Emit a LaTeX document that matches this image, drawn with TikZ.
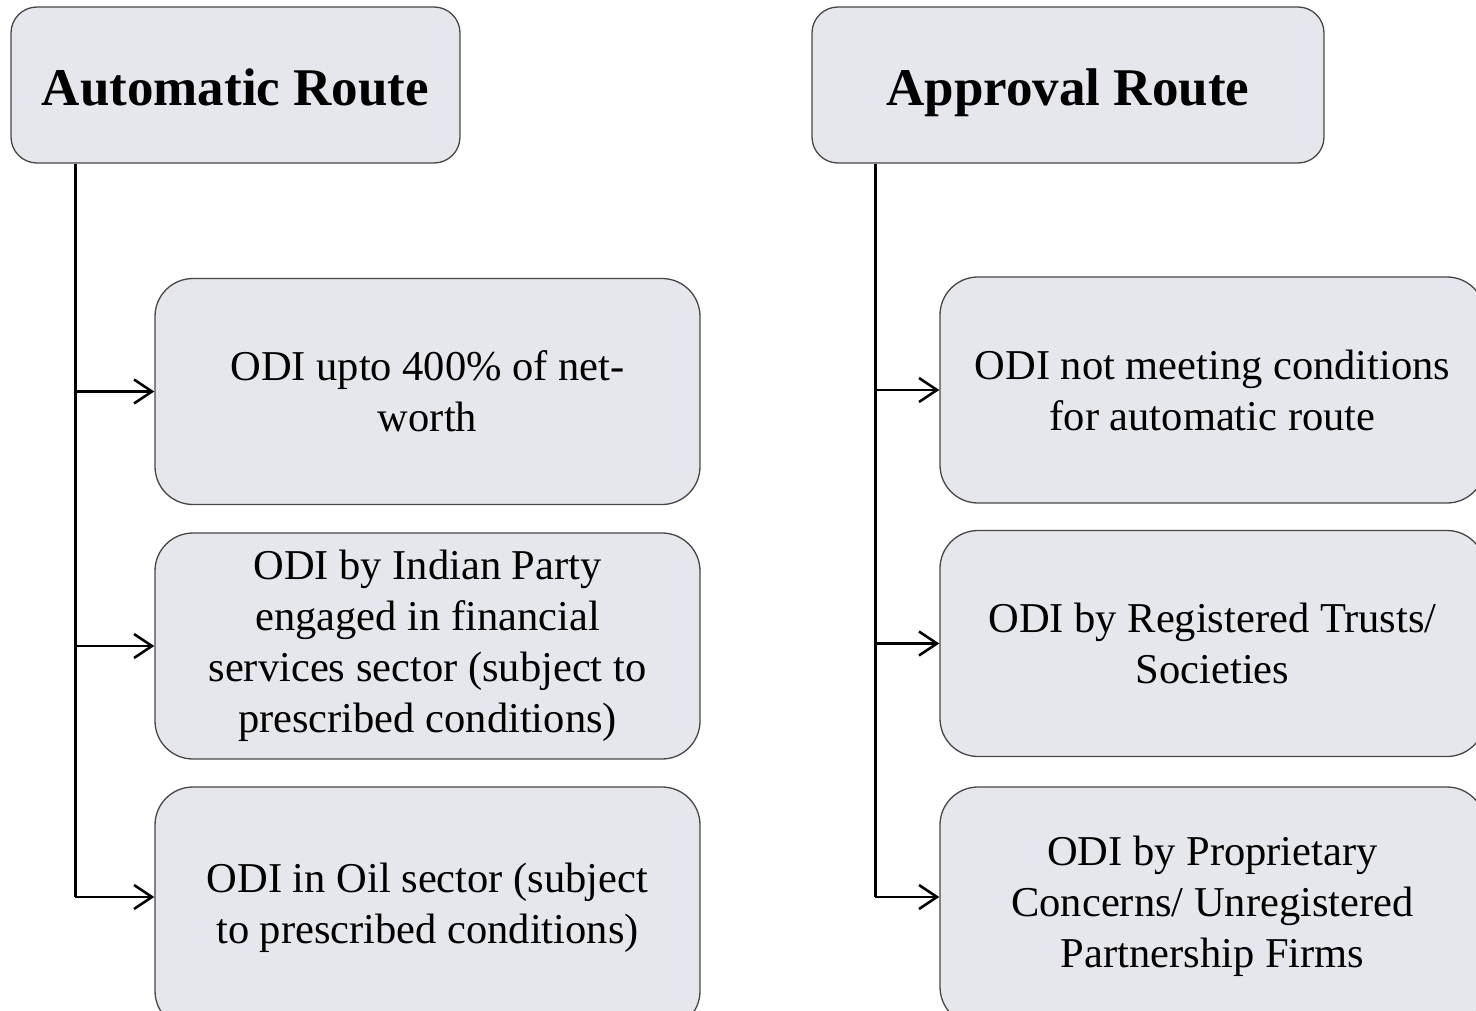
\documentclass[tikz,border=0pt]{standalone}
\usepackage{fontspec}
\setmainfont{Liberation Serif}
\usetikzlibrary{arrows.meta}
\definecolor{boxfill}{RGB}{230,231,236}
\definecolor{boxline}{RGB}{70,70,70}
\tikzset{
  header/.style={draw=boxline, fill=boxfill, line width=1.3pt, rounded corners=26pt,
    inner sep=0pt, align=center, text height=42pt, text depth=0pt,
    font=\fontsize{53}{60}\selectfont\bfseries},
  item/.style={draw=boxline, fill=boxfill, line width=1.3pt, rounded corners=38pt,
    minimum width=545pt, minimum height=226pt, inner sep=0pt, align=center,
    font=\fontsize{42.5}{51}\selectfont},
  trunk/.style={line width=2.6pt, black},
  branch/.style={line width=2.6pt, black, -{Straight Barb[length=18pt, width=24pt, line width=2.6pt]}}
}
\begin{document}
\begin{tikzpicture}[x=1pt, y=-1pt]
  \useasboundingbox (0,0) rectangle (1476,1011);
  \clip (0,0) rectangle (1476,1011);

  % Route headers
  \node[header, minimum width=449pt, minimum height=156pt] (hA) at (235.5,85) {Automatic Route};
  \node[header, minimum width=512pt, minimum height=156pt] (hB) at (1068,85) {Approval Route};

  % Automatic route items
  \node[item] (a1) at (427.5,391.5) {ODI upto 400\% of net-\\worth};
  \node[item] (a2) at (427.5,646) {ODI by Indian Party\\engaged in financial\\services sector (subject to\\prescribed conditions)};
  \node[item, minimum height=242pt] (a3) at (427.5,908) {ODI in Oil sector (subject\\to prescribed conditions)};

  % Approval route items
  \node[item] (b1) at (1212.5,390) {ODI not meeting conditions\\for automatic route};
  \node[item] (b2) at (1212.5,643.5) {ODI by Registered Trusts/\\Societies};
  \node[item, minimum height=238pt] (b3) at (1212.5,906) {ODI by Proprietary\\Concerns/ Unregistered\\Partnership Firms};

  % Trunks from header bottoms
  \coordinate (tA) at ([xshift=65pt]hA.south west);
  \coordinate (tB) at ([xshift=64pt]hB.south west);
  \coordinate (eA) at (tA |- 0,897);
  \coordinate (eB) at (tB |- 0,897);

  \draw[trunk] (tA) -- (eA);
  \draw[branch] (tA |- a1.west) -- (a1.west);
  \draw[branch] (tA |- a2.west) -- (a2.west);
  \draw[branch] (eA) -- (eA -| a3.west);

  \draw[trunk] (tB) -- (eB);
  \draw[branch] (tB |- b1.west) -- (b1.west);
  \draw[branch] (tB |- b2.west) -- (b2.west);
  \draw[branch] (eB) -- (eB -| b3.west);
\end{tikzpicture}
\end{document}
